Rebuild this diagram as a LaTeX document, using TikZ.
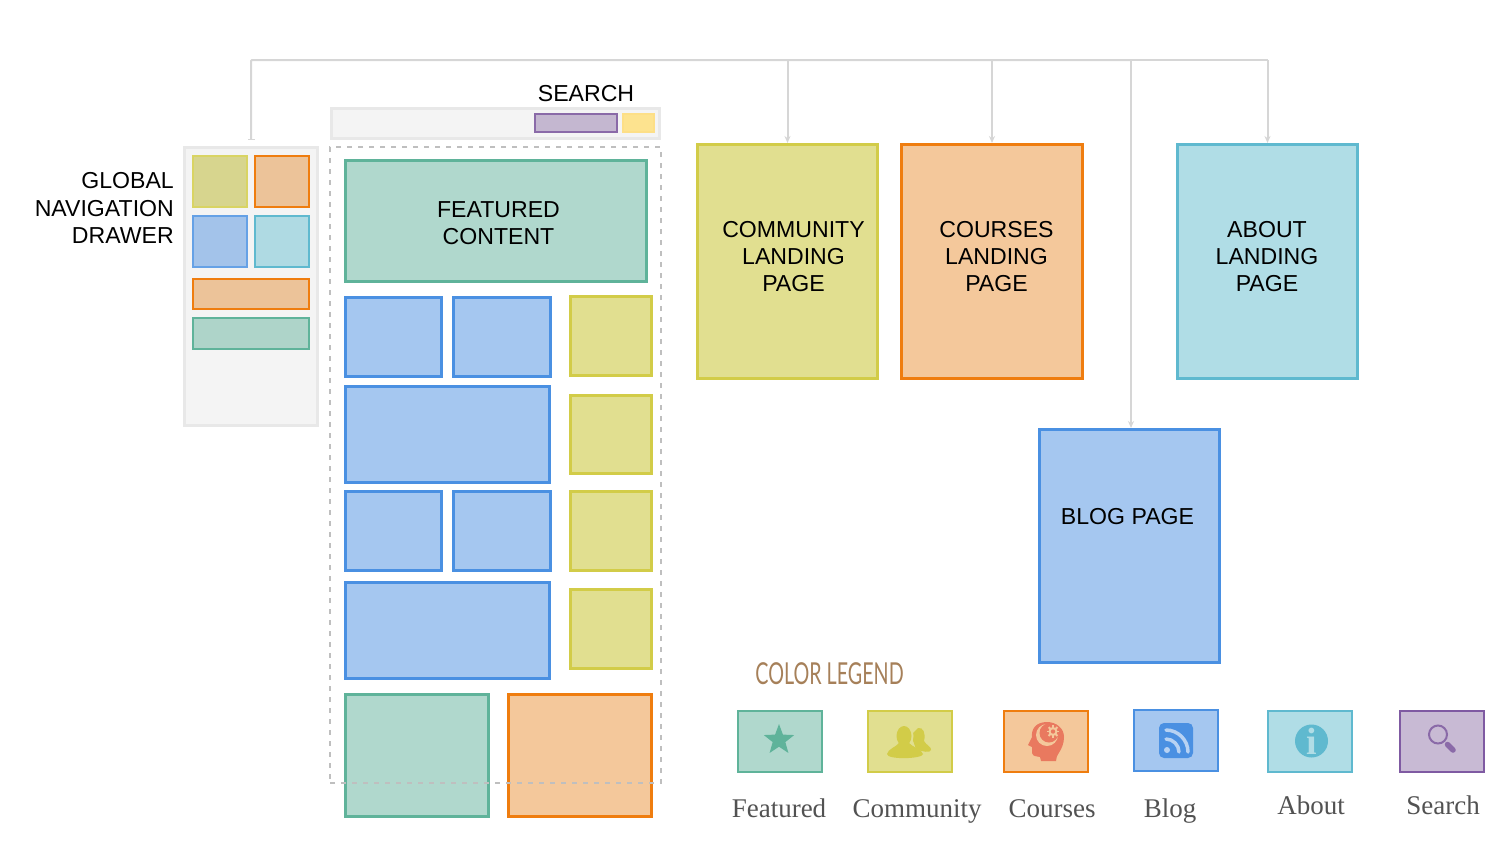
\documentclass[tikz,border=0pt]{standalone}
\usepackage{fontspec}
\setmainfont{Liberation Sans}
\newfontfamily\legendfont{Liberation Serif}
\newfontfamily\titlefont{Lato}
\usetikzlibrary{shapes.geometric,arrows.meta}

\definecolor{greenfill}{HTML}{B0D8CD}
\definecolor{greenline}{HTML}{5FB39A}
\definecolor{yellowfill}{HTML}{E1DF90}
\definecolor{yellowline}{HTML}{D2CC48}
\definecolor{orangefill}{HTML}{F4C89B}
\definecolor{orangeline}{HTML}{EF7D0F}
\definecolor{bluefill}{HTML}{A5C7F0}
\definecolor{blueline}{HTML}{4A90E2}
\definecolor{tealfill}{HTML}{B0DDE6}
\definecolor{tealline}{HTML}{5FB9CF}
\definecolor{purplefill}{HTML}{C8BAD4}
\definecolor{purpleline}{HTML}{7F5AA2}
\definecolor{shell}{HTML}{F4F4F4}
\definecolor{shellline}{HTML}{E8E8E8}
\definecolor{railline}{HTML}{D6D6D6}
\definecolor{headmark}{HTML}{E9795F}
\definecolor{lensmark}{HTML}{8A6AA8}

\tikzset{
  sz/.style n args={2}{minimum width=#1pt,minimum height=#2pt,inner sep=0pt},
  caps/.style={font=\fontsize{23.1}{27.3}\selectfont,align=center,inner sep=0pt,text=black},
  greenbox/.style={draw=greenline,fill=greenfill,line width=3pt},
  yellowbox/.style={draw=yellowline,fill=yellowfill,line width=3pt},
  orangebox/.style={draw=orangeline,fill=orangefill,line width=3pt},
  bluebox/.style={draw=blueline,fill=bluefill,line width=3pt},
  tealbox/.style={draw=tealline,fill=tealfill,line width=3pt},
  shellbox/.style={draw=shellline,fill=shell,line width=3pt},
  tiny/.style={line width=2pt},
  legendtext/.style={font=\legendfont\fontsize{27}{30}\selectfont,text=black!68,inner sep=0pt,anchor=base},
  link/.style={draw=railline,line width=2pt,-{Stealth[length=7pt,width=6pt]}},
}

\begin{document}
\begin{tikzpicture}[x=1pt,y=-1pt]
    \useasboundingbox (0,0) rectangle (1500,852);

    % drawer
    \node [shellbox,sz={133}{278}] (drawer) at (251,286.5) {};
    \node [yellowbox,tiny,sz={54}{51},fill=yellowfill!90!gray,draw=yellowline!85] (navcommunity) at (220,181.5) {};
    \node [orangebox,tiny,sz={54}{51},fill=orangefill!93!gray] (navcourses) at (282,181.5) {};
    \node [bluebox,tiny,sz={54}{51},fill=bluefill!95!gray,draw=blueline!85] (navblog) at (220,241.5) {};
    \node [tealbox,tiny,sz={54}{51},fill=tealfill!97!gray] (navabout) at (282,241.5) {};
    \node [orangebox,tiny,sz={116}{30},fill=orangefill!93!gray] (navwide) at (251,294) {};
    \node [greenbox,tiny,sz={116}{31},fill=greenfill!95!gray] (navfeatured) at (251,333.5) {};

    \node [caps,align=right,anchor=east] (drawerlabel) at (174,208) {GLOBAL\\NAVIGATION\\DRAWER};

    % search bar
    \node [shellbox,sz={328}{30}] (searchbar) at (495.5,123.5) {};
    \node [draw=lensmark,fill=purplefill!95!gray,tiny,sz={82}{18}] (searchfield) at (576,123) {};
    \node [draw=yellow!50!orange!45,fill=yellow!55!orange!42,tiny,sz={31}{18}] (searchbutton) at (638.5,123) {};
    \node [caps] (searchlabel) at (586,94) {SEARCH};

    % home page
    \node [greenbox,sz={301}{121}] (featured) at (496,221) {};
    \node [caps] (featuredlabel) at (498.5,223) {FEATURED\\CONTENT};
    \node [bluebox,sz={96}{79}] (bloga) at (393.5,337) {};
    \node [bluebox,sz={97}{79}] (blogb) at (502,337) {};
    \node [bluebox,sz={204}{96}] (blogc) at (447.5,434.5) {};
    \node [bluebox,sz={96}{79}] (blogd) at (393.5,531) {};
    \node [bluebox,sz={97}{79}] (bloge) at (502,531) {};
    \node [bluebox,sz={204}{96}] (blogf) at (447.5,630.5) {};
    \node [yellowbox,sz={81}{79}] (communitya) at (611,336) {};
    \node [yellowbox,sz={81}{78}] (communityb) at (611,434.5) {};
    \node [yellowbox,sz={81}{79}] (communityc) at (611,531) {};
    \node [yellowbox,sz={81}{79}] (communityd) at (611,629) {};
    \node [greenbox,sz={143}{122}] (featuredb) at (417,755.5) {};
    \node [orangebox,sz={143}{122}] (coursesb) at (580,755.5) {};
    \node [draw=black!25,line width=1.5pt,dash pattern=on 5pt off 6pt,sz={331}{636}] (fold) at (495.5,465) {};

    % landing pages
    \node [yellowbox,sz={180}{234}] (community) at (787.5,261.5) {};
    \node [orangebox,sz={181}{234}] (courses) at (992,261.5) {};
    \node [tealbox,sz={180}{234}] (about) at (1267.5,261.5) {};
    \node [bluebox,sz={180}{233}] (blog) at (1129.5,546) {};
    \node [caps] (communitylabel) at (793.5,256.5) {COMMUNITY\\LANDING\\PAGE};
    \node [caps] (courseslabel) at (996.5,256.5) {COURSES\\LANDING\\PAGE};
    \node [caps] (aboutlabel) at (1267,256.5) {ABOUT\\LANDING\\PAGE};
    \node [caps] (bloglabel) at (1127.5,516.5) {BLOG PAGE};

    % connectors
    \coordinate (rail) at (1131,60);
    \draw [draw=railline,line width=2pt,rounded corners=1pt,shorten >=6pt,-{Bar[width=7pt,line width=1.5pt]}] (rail) -| (drawer.north);
    \draw [draw=railline,line width=2pt] (rail) -- (rail -| about.north);
    \draw [link] (about.north |- rail) -- (about.north);
    \draw [link] (community.north |- rail) -- (community.north);
    \draw [link] (courses.north |- rail) -- (courses.north);
    \draw [link] (rail) -- (rail |- blog.north);

    % legend
    \node [inner sep=0pt,text=brown!75!black!80] (legendtitle) at (829.5,674) {\scalebox{0.73}[1.12]{\titlefont\fontsize{27}{30}\selectfont COLOR LEGEND}};

    \node [greenbox,tiny,sz={84}{61}] (keyfeatured) at (780,741.5) {};
    \node [yellowbox,tiny,sz={84}{61}] (keycommunity) at (910,741.5) {};
    \node [orangebox,tiny,sz={84}{61}] (keycourses) at (1046,741.5) {};
    \node [bluebox,tiny,sz={84}{61}] (keyblog) at (1176,740.5) {};
    \node [tealbox,tiny,sz={84}{61}] (keyabout) at (1310,741.5) {};
    \node [draw=purpleline,fill=purplefill,tiny,sz={84}{61}] (keysearch) at (1442,741.5) {};

    \node [star,star points=5,star point ratio=2.4,fill=greenline,minimum size=32pt,inner sep=0pt] (starmark) at (779,740) {};

    % community icon
    \fill [yellowline] (918,728) .. controls (923,727) and (926,733) .. (924,741) .. controls (926,745) and (932,747) .. (931,750) .. controls (930,753) and (923,752) .. (916,749) -- (911,735) -- cycle;
    \fill [yellowfill] (904,736) ellipse (9.5 and 11.5);
    \fill [yellowline] (904,736) ellipse (7.5 and 10);
    \fill [yellowline] (887,754) .. controls (888,749) and (896,747) .. (899,743) -- (909,743) .. controls (912,747) and (922,749) .. (923,754) .. controls (923,759) and (887,760) .. (887,754) -- cycle;

    % courses icon
    \fill [headmark] (1056,761) .. controls (1055,755) and (1064,750) .. (1064,737)
      .. controls (1064,728) and (1056,722) .. (1047,722) .. controls (1036,722) and (1031,729) .. (1032,737)
      -- (1028,745) -- (1032,747) -- (1032,753) .. controls (1033,757) and (1037,756) .. (1040,757)
      -- (1041,761) -- cycle;
    \fill [orangefill] (1047,735) circle (11);
    \fill [headmark] (1049,733) circle (9.5);
    \fill [orangefill] (1053,731.5) circle (4.5);
    \foreach \a in {0,45,...,315}
      \draw [orangefill,line width=1.8pt] (1053,731.5) -- ++(\a:6.2);
    \fill [headmark] (1053,731.5) circle (2.2);

    % blog icon
    \node [fill=blueline,rounded corners=5pt,sz={34}{35}] (rssmark) at (1176,740.5) {};
    \fill [bluefill!80!white] (1167,750) circle (3);
    \draw [bluefill!80!white,line width=3.5pt,line cap=round] (1166,739) .. controls (1173,739) and (1179,745) .. (1179,752);
    \draw [bluefill!80!white,line width=3.5pt,line cap=round] (1166,730) .. controls (1178,730) and (1188,740) .. (1188,752);

    % about icon
    \node [circle,fill=tealline,minimum size=33pt,inner sep=0pt,text=tealfill,font=\legendfont\bfseries\fontsize{38}{38}\selectfont] (infomark) at (1311.5,741) {i};

    % search icon
    \draw [lensmark,line width=2pt] (1438,734.5) circle (9);
    \draw [lensmark,line width=5.5pt,line cap=round] (1447.5,744.5) -- (1453,750);

    \node [legendtext] (featuredtext) at (779,817) {Featured};
    \node [legendtext] (communitytext) at (917,817) {Community};
    \node [legendtext] (coursestext) at (1052,817) {Courses};
    \node [legendtext] (blogtext) at (1170,817) {Blog};
    \node [legendtext] (abouttext) at (1311,814) {About};
    \node [legendtext] (searchtext) at (1443,814) {Search};
\end{tikzpicture}
\end{document}
